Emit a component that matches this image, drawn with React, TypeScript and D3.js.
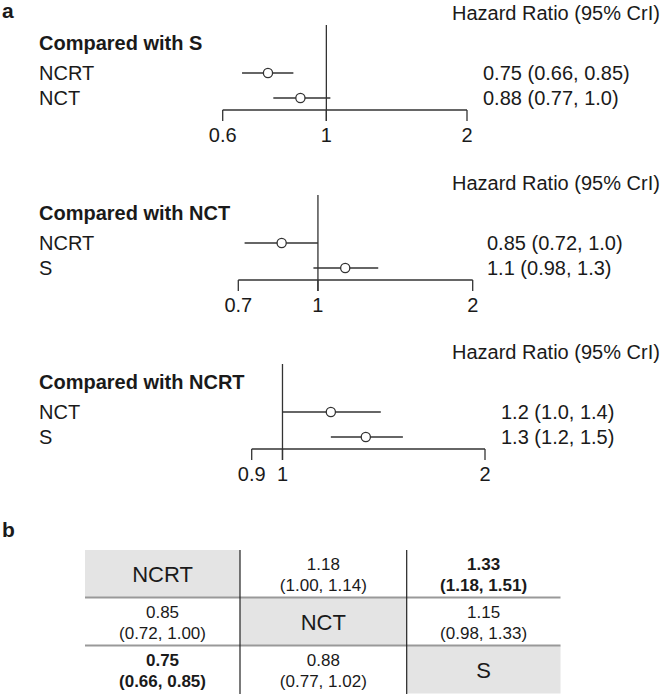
import React from "react";
import * as d3 from "d3";

// ---------- Data ----------
const comparators = ["S", "NCT", "NCRT"];
const rowLabels = [
  ["NCRT", "NCT"],
  ["NCRT", "S"],
  ["NCT", "S"],
];
const hrEstimate = [
  [0.75, 0.88],
  [0.85, 1.13],
  [1.18, 1.33],
];
const hrLower = [
  [0.66, 0.77],
  [0.72, 0.98],
  [1.0, 1.18],
];
const hrUpper = [
  [0.85, 1.02],
  [1.0, 1.31],
  [1.4, 1.51],
];
const hrText = [
  ["0.75 (0.66, 0.85)", "0.88 (0.77, 1.0)"],
  ["0.85 (0.72, 1.0)", "1.1 (0.98, 1.3)"],
  ["1.2 (1.0, 1.4)", "1.3 (1.2, 1.5)"],
];
const axisTicks = [
  [0.6, 1, 2],
  [0.7, 1, 2],
  [0.9, 1, 2],
];
const tickLabels = [
  ["0.6", "1", "2"],
  ["0.7", "1", "2"],
  ["0.9", "1", "2"],
];

const treatments = ["NCRT", "NCT", "S"];
const tableEst = [
  [null, "1.18", "1.33"],
  ["0.85", null, "1.15"],
  ["0.75", "0.88", null],
];
const tableCI = [
  [null, "(1.00, 1.14)", "(1.18, 1.51)"],
  ["(0.72, 1.00)", null, "(0.98, 1.33)"],
  ["(0.66, 0.85)", "(0.77, 1.02)", null],
];
const tableBold = [
  [false, false, true],
  [false, false, false],
  [true, false, false],
];

// ---------- Layout ----------
const W = 666;
const H = 694;
const FONT = "'Liberation Sans', Arial, Helvetica, sans-serif";
const TEXT = "#1a1a1a";
const LINE = "#333";
const panelTop = [0, 170, 339];
const axisRange = [
  [222.7, 467],
  [238.3, 472.7],
  [251.7, 485],
];
const valueX = [483, 487, 501];
const headerX = 452;
const labelX = 39;

const tableX = [85, 240, 406.7, 560.5];
const tableY = [550, 597.5, 645.5, 693.5];

function ForestPanel({ i }: { i: number }) {
  const top = panelTop[i];
  const ticks = axisTicks[i];
  const x = d3
    .scaleLog()
    .domain([ticks[0], ticks[ticks.length - 1]])
    .range(axisRange[i]);
  const rowY = [73, 98].map((v) => v + top);
  const axisY = 110 + top;
  const tickLen = 11;
  return (
    <g>
      <text x={headerX} y={20 + top} fontSize={20} fill={TEXT}>
        Hazard Ratio (95% CrI)
      </text>
      <text x={labelX} y={50 + top} fontSize={20} fontWeight="bold" fill={TEXT}>
        {"Compared with " + comparators[i]}
      </text>
      {/* reference line at HR = 1 */}
      <line
        x1={x(1)}
        x2={x(1)}
        y1={25 + top}
        y2={axisY + tickLen}
        stroke={LINE}
        strokeWidth={1.3}
      />
      {/* axis */}
      <line
        x1={x(ticks[0])}
        x2={x(ticks[ticks.length - 1])}
        y1={axisY}
        y2={axisY}
        stroke={LINE}
        strokeWidth={1.3}
      />
      {ticks.map((t, k) => (
        <g key={k}>
          <line x1={x(t)} x2={x(t)} y1={axisY} y2={axisY + tickLen} stroke={LINE} strokeWidth={1.3} />
          <text x={x(t)} y={axisY + 32} fontSize={20} textAnchor="middle" fill={TEXT}>
            {tickLabels[i][k]}
          </text>
        </g>
      ))}
      {rowLabels[i].map((lab, r) => (
        <g key={r}>
          <text x={labelX} y={rowY[r] + 7} fontSize={20} fill={TEXT}>
            {lab}
          </text>
          <line
            x1={x(hrLower[i][r])}
            x2={x(hrUpper[i][r])}
            y1={rowY[r]}
            y2={rowY[r]}
            stroke={LINE}
            strokeWidth={1.3}
          />
          <circle cx={x(hrEstimate[i][r])} cy={rowY[r]} r={4.6} fill="#fff" stroke={LINE} strokeWidth={1.3} />
          <text x={valueX[i]} y={rowY[r] + 7} fontSize={20} fill={TEXT}>
            {hrText[i][r]}
          </text>
        </g>
      ))}
    </g>
  );
}

function LeagueTable() {
  const n = treatments.length;
  return (
    <g>
      {treatments.map((t, r) =>
        treatments.map((_, c) => {
          const x0 = tableX[c];
          const x1 = tableX[c + 1];
          const y0 = tableY[r];
          const y1 = tableY[r + 1];
          const cx = (x0 + x1) / 2;
          const cy = (y0 + y1) / 2;
          if (r === c) {
            return (
              <g key={r + "-" + c}>
                <rect x={x0} y={y0} width={x1 - x0} height={y1 - y0} fill="#e4e4e4" />
                <text x={cx} y={cy + 8} fontSize={22} textAnchor="middle" fill={TEXT}>
                  {t}
                </text>
              </g>
            );
          }
          const bold = tableBold[r][c];
          return (
            <g key={r + "-" + c}>
              <text
                x={cx}
                y={cy - 10 + 6}
                fontSize={17}
                textAnchor="middle"
                fontWeight={bold ? "bold" : "normal"}
                fill={TEXT}
              >
                {tableEst[r][c]}
              </text>
              <text
                x={cx}
                y={cy + 11 + 6}
                fontSize={17}
                textAnchor="middle"
                fontWeight={bold ? "bold" : "normal"}
                fill={TEXT}
              >
                {tableCI[r][c]}
              </text>
            </g>
          );
        })
      )}
      {/* horizontal separators */}
      {[1, 2].map((k) => (
        <line
          key={"h" + k}
          x1={tableX[0]}
          x2={tableX[n]}
          y1={tableY[k]}
          y2={tableY[k]}
          stroke="#999"
          strokeWidth={2}
        />
      ))}
      {/* vertical separators */}
      {[1, 2].map((k) => (
        <line
          key={"v" + k}
          x1={tableX[k]}
          x2={tableX[k]}
          y1={tableY[0]}
          y2={tableY[n] + 1}
          stroke="#222"
          strokeWidth={1.2}
        />
      ))}
    </g>
  );
}

export default function App() {
  return (
    <div style={{ position: "absolute", left: 0, top: 0, width: W, height: H, background: "#fff" }}>
      <svg width={W} height={H} style={{ display: "block", fontFamily: FONT }}>
        <rect width={W} height={H} fill="#fff" />
        <text x={2} y={18} fontSize={21} fontWeight="bold" fill={TEXT}>
          a
        </text>
        {comparators.map((_, i) => (
          <ForestPanel key={i} i={i} />
        ))}
        <text x={2} y={537} fontSize={21} fontWeight="bold" fill={TEXT}>
          b
        </text>
        <LeagueTable />
      </svg>
    </div>
  );
}
